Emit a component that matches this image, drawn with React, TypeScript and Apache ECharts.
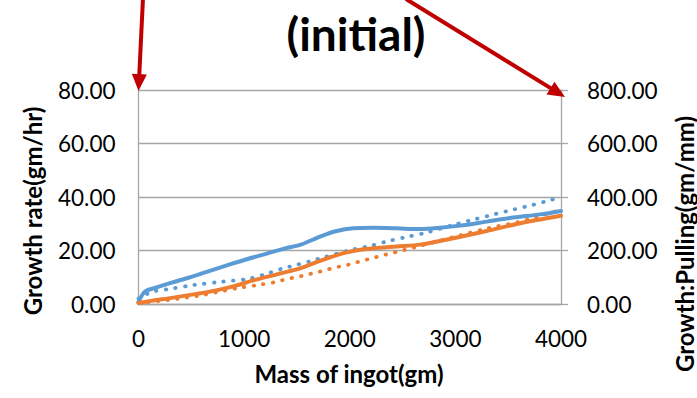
import React, { useEffect, useRef } from "react";
import * as echarts from "echarts";

// Mass of ingot (gm) vs. growth rate (gm/hr), solid lines, left axis
const blueRateMass = [0, 60, 156, 314, 472, 661, 850, 1040, 1229, 1387, 1529, 1719, 1877, 2034, 2223, 2445, 2666, 2855, 3045, 3297, 3549, 3802, 4000];
const blueRate = [0.8, 4.6, 6.0, 8.0, 9.8, 12.2, 14.6, 16.9, 19.0, 20.8, 22.1, 25.2, 27.3, 28.3, 28.5, 28.3, 28.0, 28.5, 29.3, 30.8, 32.3, 33.5, 34.8];

const orangeRateMass = [0, 156, 300, 535, 724, 914, 1103, 1293, 1340, 1529, 1719, 1877, 2034, 2223, 2445, 2666, 2981, 3297, 3613, 4000];
const orangeRate = [0.4, 1.4, 2.2, 3.7, 5.0, 6.8, 9.0, 10.9, 11.4, 13.3, 16.1, 18.3, 19.8, 20.8, 21.5, 22.2, 24.6, 27.3, 30.2, 33.0];

// Growth:Pulling (gm/mm), dotted lines, right axis
const bluePullMass = [0, 131, 273, 526, 778, 1030, 1198, 1365, 1466, 1646, 1741, 2009, 2192, 2375, 2555, 2735, 3007, 3187, 3366, 3549, 3729, 3906, 4000];
const bluePull = [20, 46, 55, 71, 83, 93, 111, 133, 143, 162, 173, 202, 217, 236, 252, 268, 298, 317, 335, 353, 370, 389, 399];

const orangePullMass = [0, 300, 600, 740, 945, 1129, 1309, 1397, 1489, 1583, 1671, 1766, 1854, 1946, 2034, 2123, 2214, 2303, 2398, 2486, 2578, 2666, 3029, 3307, 3581, 3761, 3938, 4000];
const orangePull = [3, 16, 33, 44, 60, 71, 83, 93, 100, 108, 117, 126, 136, 143, 152, 162, 171, 181, 190, 199, 208, 217, 255, 283, 305, 324, 345, 350];

const xTicks = [0, 4000, 1000];
const leftTicks = [0, 80, 20];
const rightTicks = [0, 800, 200];

const BLUE = "#5B9BD5";
const ORANGE = "#ED7D31";
const RED = "#C00000";
const GRID = "#A6A6A6";
const FONT = "Lato, 'Open Sans', sans-serif";
const TITLE_FONT = `bold 24px ${FONT}`;

const zip = (xs: number[], ys: number[]) => xs.map((x, i) => [x, ys[i]]);

function arrow(sx: number, sy: number, tx: number, ty: number) {
  const dx = tx - sx;
  const dy = ty - sy;
  const len = Math.sqrt(dx * dx + dy * dy);
  const ux = dx / len;
  const uy = dy / len;
  const headLen = 17;
  const headHalf = 7.5;
  const bx = tx - ux * headLen;
  const by = ty - uy * headLen;
  const px = -uy;
  const py = ux;
  return [
    {
      type: "line",
      shape: { x1: sx, y1: sy, x2: bx + ux * 2, y2: by + uy * 2 },
      style: { stroke: RED, lineWidth: 4 },
      z: 100,
    },
    {
      type: "polygon",
      shape: {
        points: [
          [tx, ty],
          [bx + px * headHalf, by + py * headHalf],
          [bx - px * headHalf, by - py * headHalf],
        ],
      },
      style: { fill: RED },
      z: 100,
    },
  ];
}

function label(text: string, x: number, y: number, font: string, rotation = 0) {
  return {
    type: "text",
    x,
    y,
    rotation,
    style: {
      text,
      font,
      fill: "#000",
      align: "center",
      verticalAlign: "middle",
      textAlign: "center",
      textVerticalAlign: "middle",
    },
  };
}

export default function App() {
  const ref = useRef<HTMLDivElement>(null);

  useEffect(() => {
    if (!ref.current) return;
    const chart = echarts.init(ref.current, undefined, { renderer: "svg" });
    const labelStyle = { color: "#000", fontFamily: FONT, fontSize: 22.5 };
    chart.setOption({
      animation: false,
      backgroundColor: "#fff",
      grid: { left: 138.5, right: 136, top: 90, bottom: 94, containLabel: false },
      xAxis: {
        type: "value",
        min: xTicks[0],
        max: xTicks[1],
        interval: xTicks[2],
        axisLine: { show: true, lineStyle: { color: GRID, width: 1.3 } },
        axisTick: { show: false },
        splitLine: { show: false },
        axisLabel: { ...labelStyle, margin: 23, formatter: (v: number) => String(v) },
      },
      yAxis: [
        {
          type: "value",
          min: leftTicks[0],
          max: leftTicks[1],
          interval: leftTicks[2],
          axisLine: { show: true, lineStyle: { color: GRID, width: 1.3 } },
          axisTick: { show: false },
          splitLine: { show: true, lineStyle: { color: GRID, width: 1.3 } },
          axisLabel: { ...labelStyle, margin: 23, formatter: (v: number) => v.toFixed(2) },
        },
        {
          type: "value",
          position: "right",
          min: rightTicks[0],
          max: rightTicks[1],
          interval: rightTicks[2],
          axisLine: { show: true, lineStyle: { color: GRID, width: 1.3 } },
          axisTick: { show: true, inside: false, length: 7, lineStyle: { color: GRID, width: 1.3 } },
          splitLine: { show: false },
          axisLabel: { ...labelStyle, margin: 26, formatter: (v: number) => v.toFixed(2) },
        },
      ],
      series: [
        {
          type: "line",
          yAxisIndex: 1,
          data: zip(bluePullMass, bluePull),
          showSymbol: false,
          smooth: 0.3,
          lineStyle: { color: BLUE, width: 3.8, type: [0.5, 9.2], cap: "round" },
          z: 2,
        },
        {
          type: "line",
          yAxisIndex: 1,
          data: zip(orangePullMass, orangePull),
          showSymbol: false,
          smooth: 0.3,
          lineStyle: { color: ORANGE, width: 3.8, type: [0.5, 9.2], cap: "round" },
          z: 2,
        },
        {
          type: "line",
          yAxisIndex: 0,
          data: zip(blueRateMass, blueRate),
          showSymbol: false,
          smooth: 0.3,
          lineStyle: { color: BLUE, width: 4, cap: "round", join: "round" },
          z: 3,
        },
        {
          type: "line",
          yAxisIndex: 0,
          data: zip(orangeRateMass, orangeRate),
          showSymbol: false,
          smooth: 0.3,
          lineStyle: { color: ORANGE, width: 4, cap: "round", join: "round" },
          z: 3,
        },
      ],
      graphic: [
        label("(initial)", 356, 33, `bold 46px ${FONT}`),
        label("Growth rate(gm/hr)", 32, 211, TITLE_FONT, Math.PI / 2),
        label("Growth:Pulling(gm/mm)", 684, 244, TITLE_FONT, Math.PI / 2),
        label("Mass of ingot(gm)", 349, 373, TITLE_FONT),
        ...arrow(143, -2, 138.5, 91),
        ...arrow(406, -1, 565, 97),
      ],
    });
    return () => chart.dispose();
  }, []);

  return (
    <div
      ref={ref}
      style={{ position: "fixed", left: 0, top: 0, width: 697, height: 398 }}
    />
  );
}
